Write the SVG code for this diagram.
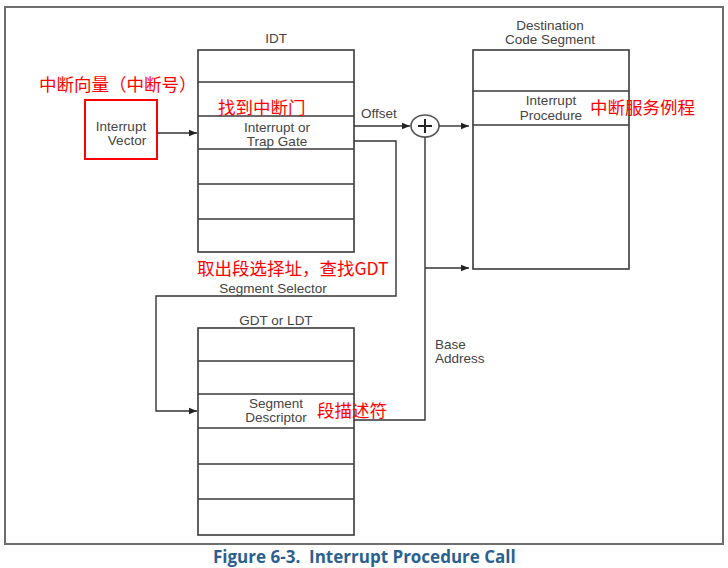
<svg xmlns="http://www.w3.org/2000/svg" width="728" height="568" viewBox="0 0 728 568">
<defs>
<style>
.frame{fill:none;stroke:#6e6e6e;stroke-width:2}
.box{fill:#fff;stroke:#3a3a3a;stroke-width:1.6}
.row{stroke:#3a3a3a;stroke-width:1.4}
.ln{fill:none;stroke:#333;stroke-width:1.4}
.t{font-family:"Liberation Sans",Arial,sans-serif;font-size:13.5px;fill:#444;text-anchor:middle}
.tl{font-family:"Liberation Sans",Arial,sans-serif;font-size:13.5px;fill:#444}
.red{font-family:"Noto Sans CJK SC",sans-serif;font-size:17.5px;fill:#ff0000}
.cap{font-family:"Open Sans","DejaVu Sans",sans-serif;font-size:17px;font-weight:bold;fill:#2b5f8f;white-space:pre}
</style>
<marker id="ah" viewBox="0 0 10 10" refX="10" refY="5" markerWidth="10" markerHeight="8" markerUnits="userSpaceOnUse" orient="auto">
<path d="M0,1 L10,5 L0,9 z" fill="#222"/>
</marker>
</defs>
<rect width="728" height="568" fill="#fff"/>
<rect class="frame" x="5" y="7" width="718" height="537"/>
<g id="vector">
<rect x="85" y="100" width="72" height="59" fill="none" stroke="#ff0000" stroke-width="2"/>
<text class="t" x="121" y="131">Interrupt</text>
<text class="t" x="127" y="145">Vector</text>
<text class="red" x="39" y="91">中断向量（中断号）</text>
</g>
<g id="idt">
<text class="t" x="276" y="43">IDT</text>
<rect class="box" x="198" y="50" width="156" height="202"/>
<line class="row" x1="198" y1="82" x2="354" y2="82"/>
<line class="row" x1="198" y1="116" x2="354" y2="116"/>
<line class="row" x1="198" y1="149" x2="354" y2="149"/>
<line class="row" x1="198" y1="184" x2="354" y2="184"/>
<line class="row" x1="198" y1="219" x2="354" y2="219"/>
<text class="t" x="277" y="132">Interrupt or</text>
<text class="t" x="277" y="146">Trap Gate</text>
<text class="red" x="218" y="114">找到中断门</text>
</g>
<g id="code">
<text class="t" x="550" y="30">Destination</text>
<text class="t" x="550" y="44">Code Segment</text>
<rect class="box" x="473" y="50" width="156" height="219"/>
<line class="row" x1="473" y1="91" x2="629" y2="91"/>
<line class="row" x1="473" y1="125" x2="629" y2="125"/>
<text class="t" x="551" y="105">Interrupt</text>
<text class="t" x="551" y="120">Procedure</text>
<text class="red" x="590" y="114">中断服务例程</text>
</g>
<g id="gdt">
<text class="t" x="276" y="325">GDT or LDT</text>
<rect class="box" x="198" y="328" width="156" height="207"/>
<line class="row" x1="198" y1="361" x2="354" y2="361"/>
<line class="row" x1="198" y1="394" x2="354" y2="394"/>
<line class="row" x1="198" y1="428" x2="354" y2="428"/>
<line class="row" x1="198" y1="464" x2="354" y2="464"/>
<line class="row" x1="198" y1="499" x2="354" y2="499"/>
<text class="t" x="276" y="408">Segment</text>
<text class="t" x="276" y="422">Descriptor</text>
<text class="red" x="317" y="417">段描述符</text>
</g>
<g id="adder">
<ellipse cx="425" cy="126" rx="14" ry="11" fill="#fff" stroke="#555" stroke-width="1.6"/>
<line x1="418" y1="126" x2="432" y2="126" stroke="#222" stroke-width="2"/>
<line x1="425" y1="119" x2="425" y2="133" stroke="#222" stroke-width="2"/>
</g>
<g id="connectors">
<line class="ln" x1="157" y1="133" x2="197" y2="133" marker-end="url(#ah)"/>
<line class="ln" x1="354" y1="126" x2="410" y2="126" marker-end="url(#ah)"/>
<line class="ln" x1="439" y1="126" x2="469" y2="126" marker-end="url(#ah)"/>
<polyline class="ln" points="354,141 396,141 396,296 156,296 156,411 197,411" marker-end="url(#ah)"/>
<polyline class="ln" points="354,420 425,420 425,137"/>
<line class="ln" x1="425" y1="268" x2="469" y2="268" marker-end="url(#ah)"/>
<text class="tl" x="361" y="118">Offset</text>
<text class="t" x="273" y="293">Segment Selector</text>
<text class="red" x="197" y="275">取出段选择址，查找GDT</text>
<text class="tl" x="435" y="349">Base</text>
<text class="tl" x="435" y="363">Address</text>
</g>
<text class="cap" x="213" y="563" xml:space="preserve">Figure 6-3.  Interrupt Procedure Call</text>
</svg>
